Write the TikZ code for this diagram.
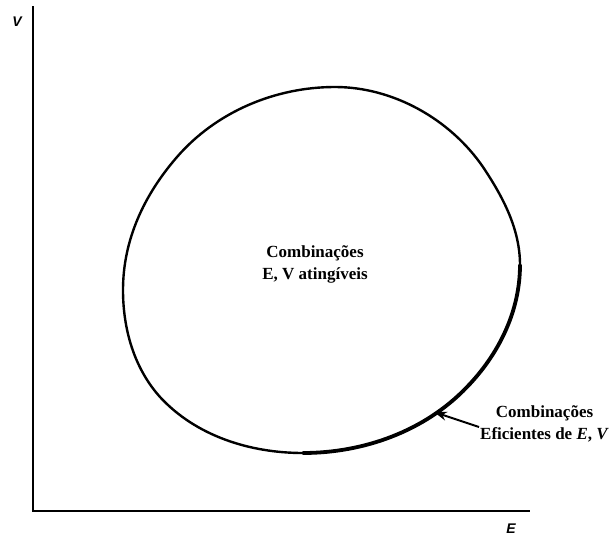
\documentclass[tikz,border=0pt]{standalone}
\usepackage{fontspec}
\setmainfont{Liberation Serif}
\newfontfamily\eixofonte{Liberation Sans}
\usetikzlibrary{arrows.meta}
\tikzset{
  eixo/.style={line width=1.6pt, draw=black},
  curva/.style={line width=2.4pt, draw=black},
  fronteira/.style={line width=3.8pt, draw=black, line cap=round},
  seta/.style={-{Stealth[length=13pt,width=9pt]}, line width=2pt, draw=black},
  rotulo/.style={font=\fontsize{17}{22}\selectfont\bfseries, align=center, inner sep=1pt},
  eixorot/.style={font=\eixofonte\fontsize{14}{14}\selectfont\bfseries\itshape, inner sep=1pt},
}

\begin{document}
\begin{tikzpicture}[x=1pt,y=-1pt]
  \useasboundingbox (0,0) rectangle (611,538);
  % eixos
  \coordinate (origem) at (33,511);
  \coordinate (topo) at (33,6);
  \coordinate (fimx) at (530,511);
  \draw[eixo] (topo) -- (origem) -- (fimx);
  \node[eixorot] (v) at (17,22) {V};
  \node[eixorot] (e) at (511,529) {E};

  % pontos do contorno
  \coordinate (cT) at (335,87);
  \coordinate (cUR) at (483,167);
  \coordinate (cR) at (520,265);
  \coordinate (cLR) at (467,387);
  \coordinate (cB) at (303,453);
  \coordinate (cLL) at (160,397);
  \coordinate (cL) at (123,290);
  \coordinate (cUL) at (177,157);

  % conjunto das combinacoes
  \draw[curva] (cT) .. controls (393,87) and (450,119) .. (cUR)
    .. controls (503,197) and (520,229) .. (cR)
    .. controls (520,311) and (499,354) .. (cLR)
    .. controls (425,431) and (364,453) .. (cB)
    .. controls (250,453) and (196,436) .. (cLL)
    .. controls (134,368) and (123,329) .. (cL)
    .. controls (123,240) and (144,195) .. (cUL)
    .. controls (216,112) and (275,87) .. (cT) -- cycle;
  % fronteira eficiente
  \draw[fronteira] (cR) .. controls (520,311) and (499,354) .. (cLR)
    .. controls (425,431) and (364,453) .. (cB);

  \node[rotulo] (ating) at (315,264) {Combinações\\E, V atingíveis};
  \node[rotulo, anchor=west] (efic) at (479,424) {Combinações\\Eficientes de \textit{E}, \textit{V}};
  \coordinate (pe) at (434,412);
  \draw[seta] ([yshift=-3pt]efic.west) -- (pe);
\end{tikzpicture}
\end{document}
